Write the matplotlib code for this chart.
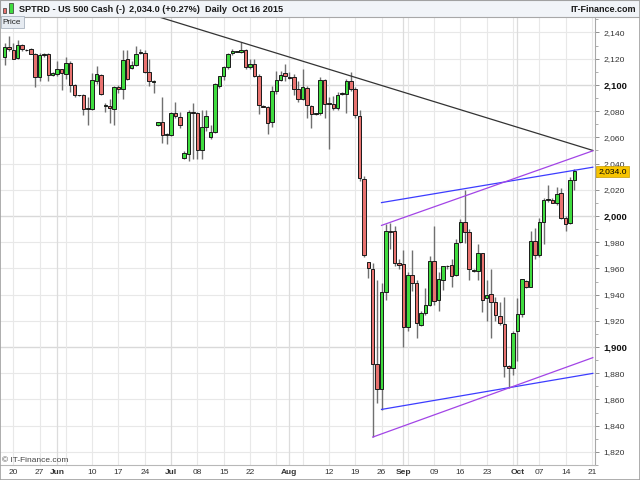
import matplotlib
matplotlib.use("Agg")
import matplotlib.pyplot as plt
from matplotlib.patches import Rectangle
from matplotlib.transforms import blended_transform_factory
import pandas as pd

plt.rcParams['font.family'] = ['Liberation Sans', 'DejaVu Sans']

# daily bars of the US 500 CFD, Sunday sessions included (no Saturdays), 18 May - 16 Oct 2015
opens = [
    2121.3, 2129.0, 2126.5, 2120.8, 2130.8, 2127.0, 2127.5, 2123.8, 2106.3, 2122.5,
    2123.3, 2107.8, 2108.5, 2112.0, 2108.5, 2117.0, 2100.0, 2092.0, 2092.5, 2081.5,
    2081.3, 2103.3, 2107.8, 2084.0, 2084.0, 2081.3, 2098.3, 2096.5, 2119.5, 2112.8,
    2115.0, 2124.0, 2124.5, 2109.5, 2102.0, 2069.3, 2071.6, 2061.6, 2062.1, 2078.8,
    2075.4, 2044.6, 2047.6, 2079.6, 2078.4, 2050.1, 2067.6, 2060.1, 2064.1, 2099.0,
    2106.5, 2114.0, 2124.0, 2125.3, 2125.3, 2127.0, 2113.8, 2115.8, 2107.0, 2083.8,
    2083.3, 2072.0, 2095.0, 2104.0, 2108.8, 2105.8, 2105.8, 2096.6, 2089.6, 2097.8,
    2084.0, 2077.5, 2078.3, 2104.0, 2085.5, 2085.8, 2082.0, 2092.8, 2092.8, 2102.6,
    2096.6, 2076.6, 2028.3, 1965.2, 1959.2, 1886.7, 1867.7, 1941.7, 1988.5, 1988.5,
    1964.2, 1963.5, 1915.2, 1954.7, 1949.2, 1916.7, 1926.0, 1932.2, 1965.5, 1936.0,
    1951.0, 1962.2, 1962.7, 1954.7, 1980.2, 1995.2, 1987.7, 1958.2, 1957.7, 1971.7,
    1937.7, 1940.2, 1934.7, 1923.5, 1917.7, 1885.2, 1884.2, 1912.2, 1925.2, 1950.2,
    1946.0, 1981.0, 1970.2, 1995.2, 2012.4, 2012.2, 2009.7, 2017.7, 1998.5, 1994.7,
    2027.2,
]
highs = [
    2132.0, 2137.0, 2132.0, 2134.5, 2131.0, 2127.5, 2128.3, 2124.5, 2124.5, 2124.5,
    2124.0, 2110.0, 2118.3, 2112.5, 2121.0, 2118.0, 2101.0, 2092.5, 2093.3, 2090.8,
    2108.8, 2114.5, 2108.3, 2086.5, 2089.5, 2099.5, 2100.0, 2127.0, 2127.0, 2118.0,
    2130.0, 2127.5, 2126.5, 2119.5, 2104.0, 2071.6, 2090.8, 2063.0, 2079.0, 2086.6,
    2079.6, 2049.6, 2080.9, 2086.0, 2079.0, 2080.9, 2080.9, 2069.6, 2101.5, 2106.5,
    2114.5, 2124.5, 2127.5, 2125.8, 2132.5, 2127.3, 2119.5, 2119.5, 2108.3, 2084.3,
    2084.0, 2099.5, 2110.8, 2110.8, 2116.3, 2109.5, 2108.3, 2103.3, 2112.5, 2099.5,
    2085.0, 2078.6, 2105.8, 2104.6, 2090.8, 2091.5, 2094.5, 2094.5, 2104.5, 2109.6,
    2098.3, 2080.8, 2030.8, 1965.2, 1964.2, 1951.0, 1948.5, 1993.5, 1994.7, 1992.0,
    1967.0, 1974.2, 1957.2, 1974.2, 1951.0, 1927.2, 1944.7, 1969.7, 1992.2, 1957.2,
    1962.2, 1962.7, 1967.2, 1982.2, 1997.7, 2019.7, 1990.0, 1959.7, 1978.5, 1972.0,
    1951.0, 1959.7, 1938.5, 1934.7, 1938.5, 1886.0, 1912.2, 1937.2, 1952.2, 1951.0,
    1988.5, 1991.0, 1998.5, 2013.5, 2023.5, 2013.5, 2022.2, 2021.7, 1999.7, 2029.7,
    2035.5,
]
lows = [
    2115.0, 2126.0, 2119.5, 2120.0, 2125.8, 2126.0, 2123.3, 2098.3, 2103.3, 2121.0,
    2103.3, 2107.0, 2107.0, 2095.8, 2104.5, 2094.5, 2091.0, 2091.5, 2077.0, 2069.5,
    2081.0, 2101.0, 2092.0, 2079.5, 2070.8, 2069.5, 2094.0, 2089.5, 2104.0, 2112.0,
    2114.5, 2123.3, 2109.0, 2099.5, 2094.0, 2068.8, 2055.8, 2055.0, 2061.0, 2075.0,
    2067.1, 2043.4, 2042.1, 2043.4, 2043.4, 2043.4, 2064.6, 2058.4, 2063.0, 2097.5,
    2104.0, 2112.5, 2123.0, 2124.8, 2124.5, 2112.5, 2112.5, 2105.8, 2077.5, 2083.0,
    2062.5, 2067.5, 2093.3, 2103.0, 2103.0, 2104.5, 2092.0, 2087.0, 2088.3, 2074.6,
    2067.0, 2077.0, 2077.0, 2075.0, 2050.8, 2081.0, 2081.0, 2092.0, 2078.3, 2095.0,
    2075.0, 2026.6, 1968.5, 1952.3, 1831.2, 1857.2, 1852.2, 1936.0, 1975.0, 1962.0,
    1959.7, 1899.7, 1912.2, 1942.7, 1907.2, 1916.0, 1924.7, 1931.0, 1932.2, 1927.7,
    1943.5, 1959.7, 1946.0, 1954.0, 1979.5, 1979.7, 1951.0, 1957.2, 1951.0, 1927.0,
    1919.7, 1907.2, 1919.7, 1917.0, 1877.2, 1868.5, 1878.5, 1889.7, 1923.0, 1945.0,
    1945.5, 1967.2, 1969.0, 1978.5, 2011.0, 2009.7, 2008.7, 1998.0, 1988.5, 1993.5,
    2019.7,
]
closes = [
    2129.0, 2127.5, 2120.0, 2130.8, 2127.5, 2127.0, 2123.8, 2106.3, 2122.8, 2123.8,
    2107.5, 2109.3, 2112.0, 2108.8, 2117.0, 2100.0, 2092.5, 2092.2, 2081.3, 2082.0,
    2104.0, 2108.3, 2092.8, 2084.3, 2082.0, 2098.3, 2096.5, 2118.8, 2104.5, 2115.0,
    2123.8, 2125.3, 2109.5, 2102.8, 2103.3, 2071.6, 2061.6, 2062.6, 2078.4, 2075.9,
    2069.6, 2048.4, 2079.6, 2078.9, 2050.1, 2067.6, 2076.6, 2064.1, 2101.0, 2106.5,
    2113.3, 2123.3, 2126.0, 2125.5, 2127.0, 2113.8, 2115.8, 2107.0, 2084.5, 2083.5,
    2071.3, 2095.0, 2103.8, 2107.8, 2107.0, 2105.6, 2096.6, 2089.6, 2098.3, 2084.6,
    2077.6, 2078.3, 2104.0, 2085.8, 2086.0, 2082.6, 2092.6, 2094.0, 2102.6, 2096.6,
    2077.0, 2029.0, 1970.2, 1960.2, 1886.7, 1867.7, 1941.7, 1988.5, 1988.0, 1964.2,
    1962.7, 1915.2, 1955.2, 1949.2, 1918.5, 1926.0, 1932.2, 1965.5, 1935.2, 1952.2,
    1961.7, 1962.0, 1954.2, 1979.7, 1995.2, 1987.7, 1959.2, 1958.6, 1971.7, 1936.0,
    1939.7, 1934.2, 1924.2, 1918.5, 1885.2, 1884.2, 1911.0, 1925.2, 1951.7, 1946.0,
    1981.0, 1970.2, 1995.2, 2012.2, 2012.7, 2010.2, 2016.7, 1998.5, 1994.2, 2027.7,
    2034.0,
]

# trend lines: (bar index, price) end points
trend_black = [(30.0, 2157.2), (134.2, 2050.0)]
channel_blue = [[(86.0, 2010.2), (134.2, 2037.2)], [(86.0, 1852.4), (134.2, 1879.9)]]
channel_purple = [[(86.0, 1992.8), (134.2, 2049.7)], [(84.0, 1831.3), (134.2, 1891.9)]]

price_ticks = list(range(1820, 2141, 20))
last_price = 2034.0

# bar calendar (Sundays count, Saturdays do not), padded past the last bar
days = pd.date_range("2015-05-18", "2015-10-23")
days = days[days.dayofweek != 5]
n = len(closes)

W, H = 640, 480
fig = plt.figure(figsize=(W / 100, H / 100), dpi=100)
ax = fig.add_axes([0, 15 / H, 595 / W, 448 / H])
ax.set_xlim(-1.03, 134.7)
ax.set_ylim(1816.3, 2151.8)

# grid
for v in price_ticks:
    strong = v % 100 == 0
    ax.axhline(v, color='#d9d9d9' if strong else '#e8e8e8', lw=1.0 if strong else 0.8, zorder=0)

grid_idx, tick_idx, tick_lab, is_month = [], [], [], []
month_idx = [i for i in range(1, len(days)) if days[i].month != days[i - 1].month]
for i, d in enumerate(days):
    if i in month_idx:
        grid_idx.append(i)
        tick_idx.append(i)
        tick_lab.append(d.strftime('%b'))
        is_month.append(True)
    elif d.dayofweek == 2:
        grid_idx.append(i)
        if min(abs(i - m) for m in month_idx) > 3:
            tick_idx.append(i)
            tick_lab.append(d.strftime('%d'))
            is_month.append(False)
for i in grid_idx:
    ax.axvline(i, color='#dcdcdc' if i in month_idx else '#e8e8e8',
               lw=0.9 if i in month_idx else 0.8, zorder=0)

# candles
x = list(range(n))
ax.vlines(x, lows, highs, color='#707070', lw=1.0, zorder=2)
bottoms = [min(o, c) for o, c in zip(opens, closes)]
heights = [abs(c - o) for o, c in zip(opens, closes)]
colors = ['#3fdc3f' if c >= o else '#e8726f' for o, c in zip(opens, closes)]
ax.bar(x, heights, bottom=bottoms, width=0.8, color=colors,
       edgecolor='#1a1a1a', linewidth=0.7, zorder=3)

# trend lines
(x0, y0), (x1, y1) = trend_black
ax.plot([x0, x1], [y0, y1], color='#333333', lw=0.9, zorder=4)
for seg in channel_blue:
    ax.plot([p[0] for p in seg], [p[1] for p in seg], color='#3c3cff', lw=0.9, zorder=4)
for seg in channel_purple:
    ax.plot([p[0] for p in seg], [p[1] for p in seg], color='#a244e6', lw=0.9, zorder=4)

# axes
ax.yaxis.tick_right()
ax.set_yticks(price_ticks)
ax.set_yticklabels([f'{v:,}' for v in price_ticks])
ax.set_yticks([v + 10 for v in price_ticks[:-1]] + [1810, 2150], minor=True)
ax.tick_params(axis='y', which='major', labelsize=6.1, length=3, width=0.7,
               color='#909090', pad=3, labelcolor='#333333')
ax.tick_params(axis='y', which='minor', length=2, width=0.6, color='#a0a0a0')
for t, v in zip(ax.get_yticklabels(), price_ticks):
    if v % 100 == 0:
        t.set_fontweight('bold')
        t.set_fontsize(6.8)
        t.set_color('#111111')

ax.set_xticks(tick_idx)
ax.set_xticklabels(tick_lab)
ax.tick_params(axis='x', length=0, labelsize=6.0, pad=3, labelcolor='#333333')
for t, m in zip(ax.get_xticklabels(), is_month):
    if m:
        t.set_fontweight('bold')

for s in ['left', 'top']:
    ax.spines[s].set_visible(False)
ax.spines['right'].set_color('#a8a8a8')
ax.spines['bottom'].set_color('#b8b8b8')

# last price tag
tr = blended_transform_factory(ax.transAxes, ax.transData)
ax.text(1.006, last_price, f'{last_price:,.1f}', transform=tr, ha='left', va='center',
        fontsize=6.1, color='#000000', clip_on=False,
        bbox=dict(boxstyle='square,pad=0.25', fc='#f7c400', ec='#c89b00', lw=0.5))

# header bar
def fx(px):
    return px / W


def fy(py):
    return 1 - py / H


fig.patches.append(Rectangle((0, fy(16.5)), 1, 16.5 / H, transform=fig.transFigure,
                             fc='#f1f4f8', ec='#a8a8a8', lw=0.8, zorder=5))
fig.patches.append(Rectangle((fx(3), fy(12.7)), 3 / W, 4.4 / H, transform=fig.transFigure,
                             fc='#e8726f', ec='#333333', lw=0.5, zorder=6))
fig.patches.append(Rectangle((fx(8.5), fy(12.5)), 4 / W, 9 / H, transform=fig.transFigure,
                             fc='#3fdc3f', ec='#333333', lw=0.5, zorder=6))
fig.text(fx(19), fy(9), 'SPTRD - US 500 Cash (-)', fontsize=6.6, fontweight='bold',
         va='center', color='#1a1a1a', zorder=7)
fig.text(fx(129), fy(9), '2,034.0 (+0.27%)', fontsize=6.6, fontweight='bold',
         va='center', color='#1a1a1a', zorder=7)
fig.text(fx(205), fy(9), 'Daily  Oct 16 2015', fontsize=6.6, fontweight='bold',
         va='center', color='#1a1a1a', zorder=7)
fig.text(fx(636), fy(9), 'IT-Finance.com', fontsize=6.5, fontweight='bold',
         va='center', ha='right', color='#1a1a1a', zorder=7)

# "Price" panel label
fig.patches.append(Rectangle((fx(1), fy(27.5)), 23 / W, 11 / H, transform=fig.transFigure,
                             fc='#e6ebf1', ec='#a9b3bf', lw=0.6, zorder=6))
fig.text(fx(2.8), fy(22), 'Price', fontsize=5.9, va='center', color='#222222', zorder=7)

fig.text(fx(2), fy(460.5), '\u00a9 IT-Finance.com', fontsize=6.0, va='center',
         color='#444444', zorder=7)

# outer frame
fig.patches.append(Rectangle((0, 0), 1, 1, transform=fig.transFigure, fill=False,
                             ec='#a0a0a0', lw=1.2, zorder=8))

fig.savefig('out.png', dpi=100)
